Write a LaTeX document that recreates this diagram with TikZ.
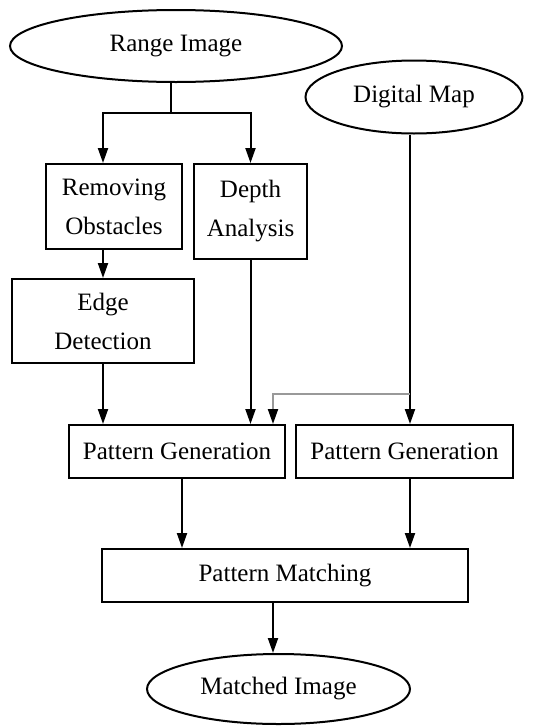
\documentclass[tikz,border=0pt]{standalone}
\usepackage{fontspec}
\setmainfont{Liberation Serif}
\usetikzlibrary{arrows.meta,shapes.geometric}
\tikzset{
  blk/.style={draw, line width=2pt, inner sep=0pt, align=center,
    font=\fontsize{25}{39}\selectfont},
  oval/.style={blk, ellipse},
  flow/.style={line width=2pt, -{Triangle[length=15pt,width=10pt,color=black]}},
}
\begin{document}
\begin{tikzpicture}[x=1pt,y=-1pt]
  \useasboundingbox (0,0) rectangle (552,726);
  % sources
  \node[oval, minimum width=332, minimum height=72] (range) at (176,46) {Range Image};
  \node[oval, minimum width=217, minimum height=73] (map) at (414,97) {Digital Map};
  % processing
  \node[blk, minimum width=136, minimum height=85] (remove) at (114,206.5) {Removing\\Obstacles};
  \node[blk, minimum width=113, minimum height=95] (depth) at (250.5,211.5) {Depth\\Analysis};
  \node[blk, minimum width=182, minimum height=84] (edge) at (103,321) {Edge\\Detection};
  \node[blk, minimum width=216, minimum height=53] (genL) at (177,451.5) {Pattern Generation};
  \node[blk, minimum width=217, minimum height=53] (genR) at (404.5,451.5) {Pattern Generation};
  \node[blk, minimum width=366, minimum height=53] (match) at (285,575.5) {Pattern Matching};
  \node[oval, minimum width=263, minimum height=70] (matched) at (278.5,689) {Matched Image};
  % branch points
  \coordinate (split) at (171,113);
  \coordinate (tap) at (410,394);
  \coordinate (tapL) at (273,394);
  % connectors
  \draw[line width=2pt] (range.south -| split) -- (split);
  \draw[flow] (split) -| (remove.north -| edge.north);
  \draw[flow] (split) -| (depth.north);
  \draw[flow] (remove.south -| edge.north) -- (edge.north);
  \draw[flow] (edge.south) -- (edge.south |- genL.north);
  \draw[flow] (depth.south) -- (depth.south |- genL.north);
  \draw[flow] (map.south -| tap) -- (genR.north -| tap);
  \draw[flow, draw=gray!80] (tap) -- (tapL) -- (tapL |- genL.north);
  \draw[flow] ([xshift=5pt]genL.south) -- ([xshift=5pt]genL.south |- match.north);
  \draw[flow] (genR.south -| tap) -- (match.north -| tap);
  \draw[flow] (match.south -| tapL) -- (matched.north -| tapL);
\end{tikzpicture}
\end{document}
